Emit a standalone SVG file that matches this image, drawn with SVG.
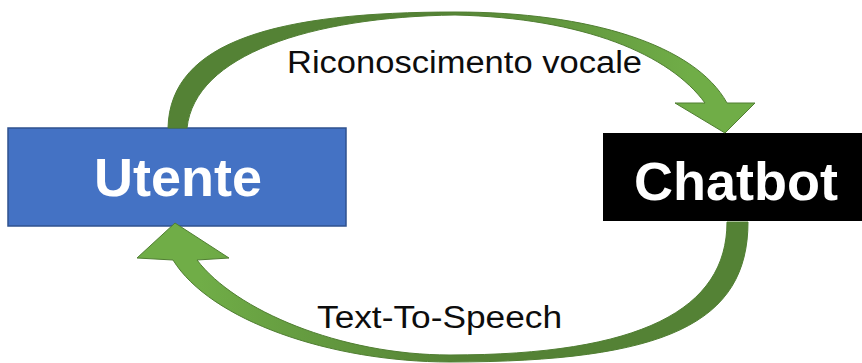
<svg xmlns="http://www.w3.org/2000/svg" width="862" height="363" viewBox="0 0 862 363">
  <style>
    .label { font-family: "Liberation Sans", Arial, sans-serif; font-size: 31px; fill: #0d0d0d; }
    .node-text { font-family: "Liberation Sans", Arial, sans-serif; font-weight: bold; font-size: 54px; fill: #ffffff; text-anchor: middle; }
    .arrow { stroke: #507E32; stroke-width: 1; stroke-linejoin: miter; }
  </style>
  <defs>
    <linearGradient id="topShade" gradientUnits="userSpaceOnUse" x1="430" y1="0" x2="690" y2="0">
      <stop offset="0" stop-color="#548235"/>
      <stop offset="1" stop-color="#70AD47"/>
    </linearGradient>
    <linearGradient id="bottomShade" gradientUnits="userSpaceOnUse" x1="200" y1="0" x2="460" y2="0">
      <stop offset="0" stop-color="#70AD47"/>
      <stop offset="1" stop-color="#548235"/>
    </linearGradient>
  </defs>

  <rect width="862" height="363" fill="#ffffff"/>

  <g id="utente">
    <rect x="8" y="128" width="338" height="98" fill="#4472C4" stroke="#2F528F" stroke-width="1.5"/>
    <text class="node-text" x="178" y="196">Utente</text>
  </g>

  <g id="chatbot">
    <rect x="603" y="133" width="262" height="88" fill="#000000"/>
    <text class="node-text" x="736" y="200">Chatbot</text>
  </g>

  <g id="connectors">
    <!-- Utente -> Chatbot, curved over the top -->
    <path class="arrow" fill="url(#topShade)"
          d="M168,128 C170,40 280,12 455,12 C590,12 695,45 727,103 L755,103 L725,133 L675,103 L705,103 C670,55 585,18 455,15 C310,17 195,55 187,128 Z"/>
    <!-- Chatbot -> Utente, curved underneath -->
    <path class="arrow" fill="url(#bottomShade)"
          d="M748,222 C748,323 666,362 450,362 C330,362 210,320 173,260 L137,258 L175,223 L229,258 L197,260 C235,310 340,355 450,355 C640,355 727,310 727,222 Z"/>
    <text class="label" x="287" y="73" textLength="355" lengthAdjust="spacingAndGlyphs">Riconoscimento vocale</text>
    <text class="label" x="317" y="328" textLength="245" lengthAdjust="spacingAndGlyphs">Text-To-Speech</text>
  </g>
</svg>
